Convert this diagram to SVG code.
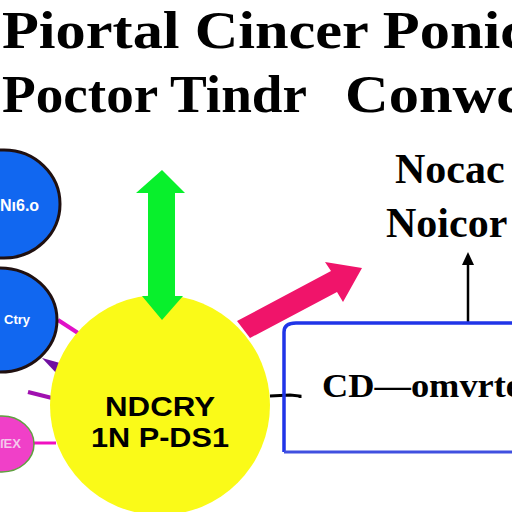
<svg xmlns="http://www.w3.org/2000/svg" width="512" height="512" viewBox="0 0 512 512">
<style>
.t{font-family:"Liberation Serif","Times New Roman",serif;font-weight:bold;fill:#000}
.s{font-family:"Liberation Sans",Arial,sans-serif;font-weight:bold;fill:#000}
.w{font-family:"Liberation Sans",Arial,sans-serif;font-weight:bold;fill:#fff}
</style>
<rect width="512" height="512" fill="#fff"/>
<g id="title">
<text class="t" x="2" y="48" font-size="53" textLength="525" lengthAdjust="spacingAndGlyphs">Piortal Cincer Ponic</text>
<text class="t" x="2" y="112" font-size="53" textLength="305" lengthAdjust="spacingAndGlyphs">Poctor Tindr</text>
<text class="t" x="345" y="112" font-size="53" textLength="178" lengthAdjust="spacingAndGlyphs">Conwc</text>
</g>
<g id="connectors">
<line x1="58" y1="320" x2="78" y2="333" stroke="#e010c8" stroke-width="4"/>
<polygon points="42,358 60,363 58,375" fill="#7010a0"/>
<line x1="28" y1="392" x2="52" y2="398" stroke="#a010b0" stroke-width="4"/>
<line x1="33" y1="443" x2="56" y2="443" stroke="#f010c0" stroke-width="3"/>
<polyline points="270,396 290,395 300,396 300,398" fill="none" stroke="#000" stroke-width="3"/>
<line x1="468" y1="323" x2="468" y2="262" stroke="#000" stroke-width="2.5"/>
<polygon points="468,252 462,265 474,265" fill="#000"/>
</g>
<g id="node-blue1">
<ellipse cx="4" cy="204" rx="56" ry="54" fill="#1167f0" stroke="#201010" stroke-width="3"/>
<text class="w" x="0" y="211" font-size="16" font-weight="normal">Nı6.o</text>
</g>
<g id="node-blue2">
<ellipse cx="0" cy="320" rx="57" ry="52" fill="#1167f0" stroke="#201010" stroke-width="3"/>
<text class="w" x="4" y="324" font-size="13">Ctry</text>
</g>
<g id="node-pink">
<ellipse cx="2" cy="444" rx="32" ry="28" fill="#f040c8" stroke="#60a040" stroke-width="1.5"/>
<text x="0" y="448" font-size="13" font-family="Liberation Sans,sans-serif" font-weight="bold" fill="#f4c8ec">ſEX</text>
</g>
<g id="node-yellow">
<circle cx="160" cy="405" r="110" fill="#fafa18"/>
<text class="s" x="160" y="416" font-size="27" text-anchor="middle" textLength="110" lengthAdjust="spacingAndGlyphs">NDCRY</text>
<text class="s" x="160" y="447" font-size="28" text-anchor="middle" textLength="138" lengthAdjust="spacingAndGlyphs">1N P-DS1</text>
</g>
<g id="arrow-green">
<polygon points="162,170 185,193 175,193 175,296 183,296 162,320 142,296 148,296 148,193 136,193" fill="#08f02c"/>
</g>
<g id="arrow-red">
<polygon points="237,321 331,271 325,262 362,268 343,302 337,292 250,338" fill="#f0146a"/>
</g>
<g id="node-box">
<path d="M284,452 V332 Q284,323 296,323 H520" fill="none" stroke="#2035e8" stroke-width="3.5"/>
<line x1="284" y1="452" x2="520" y2="452" stroke="#4050e0" stroke-width="3"/>
<text class="t" x="322" y="397" font-size="33" textLength="200" lengthAdjust="spacingAndGlyphs">CD—omvrte</text>
</g>
<g id="node-label">
<text class="t" x="395" y="183" font-size="42">Nocac</text>
<text class="t" x="386" y="237" font-size="42">Noicor</text>
</g>
</svg>
